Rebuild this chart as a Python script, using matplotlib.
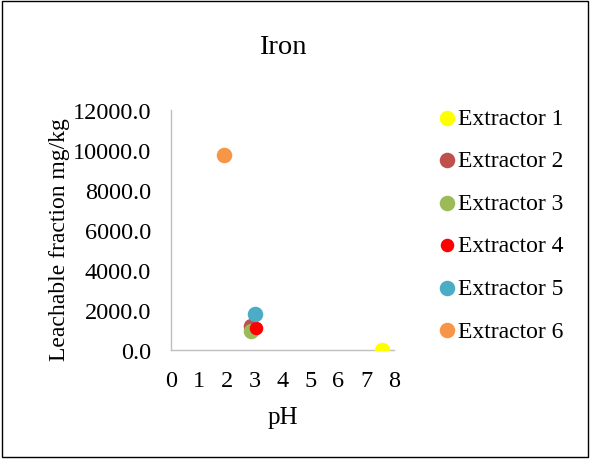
import matplotlib.pyplot as plt
from matplotlib.patches import Rectangle
from matplotlib.ticker import FormatStrFormatter

plt.rcParams['font.family'] = ['Liberation Serif', 'DejaVu Serif']

# pH and leachable Fe for each extractor
labels = ["Extractor 1", "Extractor 2", "Extractor 3",
          "Extractor 4", "Extractor 5", "Extractor 6"]
ph = [7.55, 2.87, 2.88, 3.05, 3.0, 1.91]
iron = [0.0, 1200.0, 950.0, 1120.0, 1800.0, 9750.0]
colors = ["#FFFF00", "#C0504D", "#9BBB59", "#FF0000", "#4BACC6", "#F79646"]
sizes = [125, 125, 125, 95, 125, 125]

fig = plt.figure(figsize=(5.9, 4.6), dpi=100)
ax = fig.add_axes([0.29, 0.237, 0.378, 0.522])

for lab, x, y, c, s in zip(labels, ph, iron, colors, sizes):
    ax.scatter(x, y, s=s, color=c, label=lab, linewidths=0, zorder=3)

ax.set_xlim(0, 8)
ax.set_ylim(0, 12000)
ax.set_xticks(range(0, 9))
ax.set_yticks(range(0, 12001, 2000))
ax.yaxis.set_major_formatter(FormatStrFormatter('%.1f'))
ax.tick_params(length=0, labelsize=17.5)
ax.tick_params(axis='y', pad=14.5)
ax.tick_params(axis='x', pad=14.5)
for side in ['top', 'right']:
    ax.spines[side].set_visible(False)
for side in ['bottom', 'left']:
    ax.spines[side].set_color('#BFBFBF')
    ax.spines[side].set_linewidth(1.0)

ax.set_title('Iron', fontsize=20.5, pad=41)
ax.set_xlabel('pH', fontsize=18, labelpad=11)
ax.set_ylabel('Leachable fraction mg/kg', fontsize=17)
ax.yaxis.set_label_coords(-0.455, 0.4625)

ax.legend(loc='upper left', bbox_to_anchor=(1.088, 1.05), frameon=False,
          fontsize=17, handletextpad=-0.54, labelspacing=0.89,
          borderaxespad=0, scatterpoints=1)

fig.patches.append(Rectangle((0.004, 0.004), 0.992, 0.992, transform=fig.transFigure,
                             fill=False, edgecolor='black', linewidth=1.0))

fig.savefig('out.png', dpi=100)
